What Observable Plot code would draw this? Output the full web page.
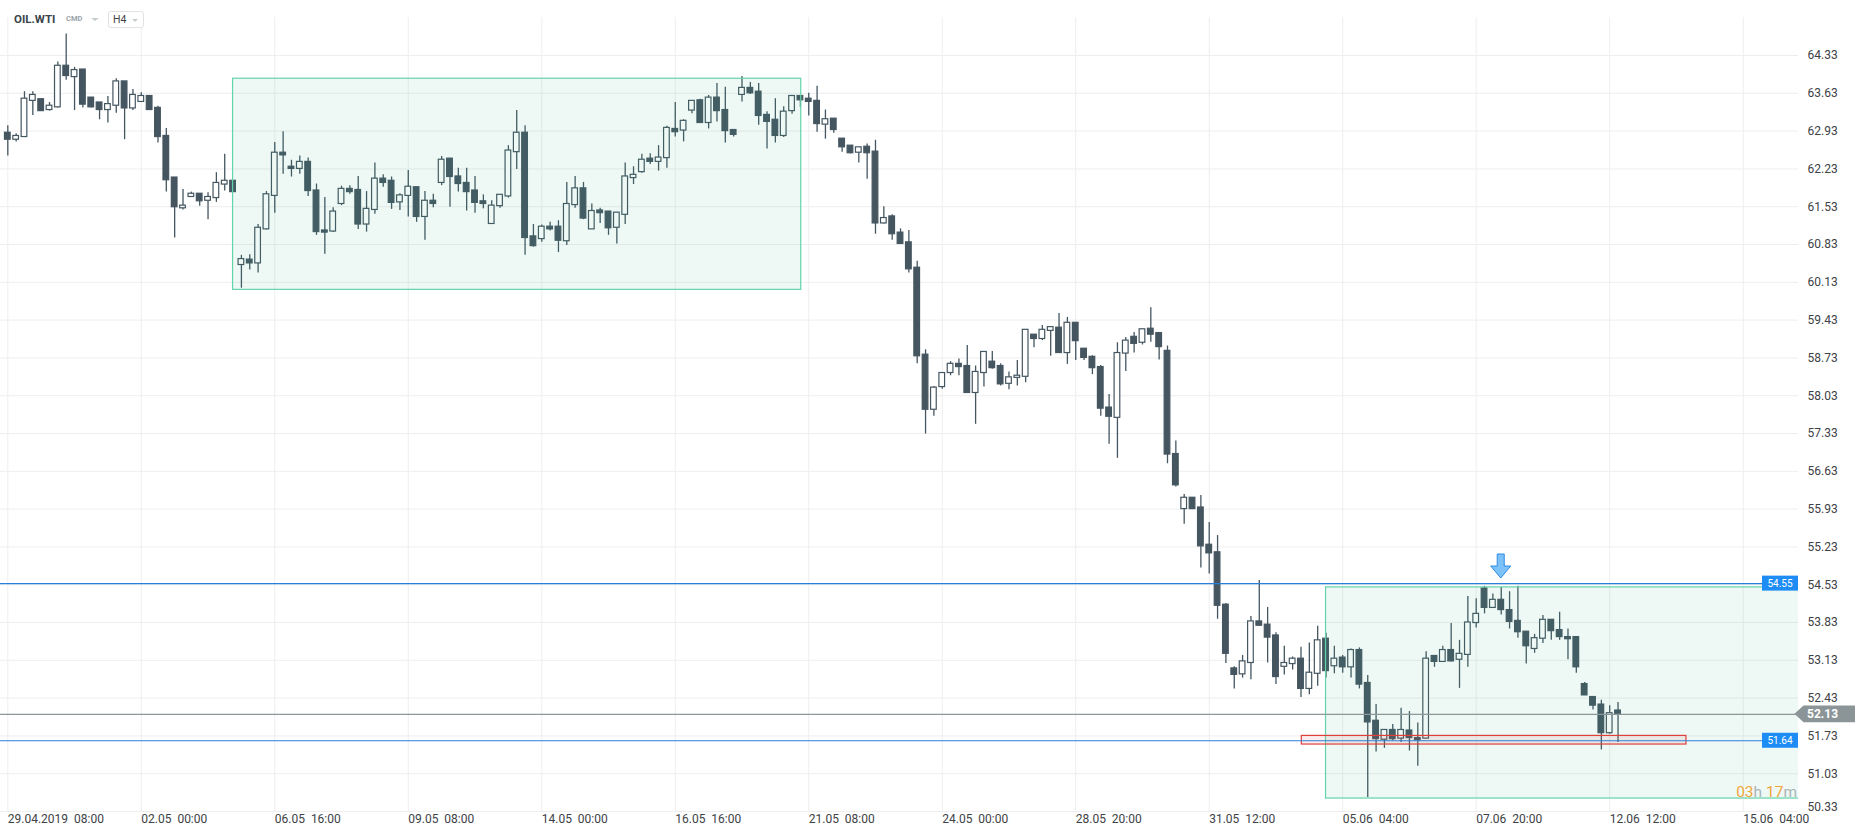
<!DOCTYPE html>
<html>
<head>
<meta charset="utf-8">
<script src="https://cdn.jsdelivr.net/npm/d3@7"></script>
<script src="https://cdn.jsdelivr.net/npm/@observablehq/plot@0.6"></script>
<style>
html, body { margin: 0; padding: 0; background: #ffffff; }
#wrap { position: relative; width: 1866px; height: 837px; font-family: Roboto, "Noto Sans", sans-serif; overflow: hidden; }
#chart svg { display: block; }
#hdr { position: absolute; left: 0; top: 0; width: 160px; height: 30px; }
#hdr .sym { position: absolute; left: 14px; top: 13px; font: bold 11.5px Roboto, sans-serif; line-height: 12px; color: #3a4449; }
#hdr .cmd { position: absolute; left: 66px; top: 15px; font: bold 7.5px Roboto, sans-serif; line-height: 8px; color: #9aa4aa; }
#hdr .caret { position: absolute; width: 0; height: 0; border-left: 4px solid transparent; border-right: 4px solid transparent; border-top: 3px solid #c6cdd1; }
#hdr .box { position: absolute; left: 108px; top: 11px; width: 34px; height: 15px; border: 1px solid #dfe3e6; border-radius: 3px; background: #fff; }
#hdr .tf { position: absolute; left: 4px; top: 2px; font: 10.5px Roboto, sans-serif; line-height: 11px; color: #444; }
</style>
</head>
<body>
<div id="wrap">
  <div id="chart"></div>
  <div id="hdr">
    <div class="sym">OIL.WTI</div>
    <div class="cmd">CMD</div>
    <div class="caret" style="left:91px;top:18px;"></div>
    <div class="box"><div class="tf">H4</div><div class="caret" style="left:23px;top:7px;border-left-width:3px;border-right-width:3px;"></div></div>
  </div>
</div>
<script>
// ---- OIL.WTI H4 candles (bar 0 = 29.04.2019 08:00) ----
const opens = [
62.90,62.77,62.82,63.49,63.52,63.32,63.37,64.14,63.93,64.07,63.55,63.46,63.32,63.40,63.85,63.35,63.47,63.58,63.36,62.84,
62.07,61.50,61.71,61.77,61.64,61.69,61.94,62.01,60.45,60.55,60.48,61.11,61.73,62.53,62.27,62.23,62.36,61.83,61.09,61.07,
61.58,61.86,61.84,61.20,61.47,62.05,62.01,61.61,61.73,61.89,61.34,61.64,61.97,62.42,62.09,61.97,61.83,61.63,61.21,61.54,
61.72,62.54,62.90,60.98,60.93,61.16,61.16,60.89,61.56,61.87,61.11,61.46,61.44,61.14,61.38,62.06,62.17,62.42,62.36,62.43,
62.97,62.94,63.31,63.50,63.08,63.55,63.32,62.95,63.60,63.73,63.66,63.23,63.14,62.84,63.30,63.58,63.53,63.49,63.05,63.16,
62.79,62.66,62.53,62.64,62.55,61.22,61.35,61.05,60.87,60.40,58.79,57.77,58.19,58.45,58.62,58.58,58.08,58.45,58.66,58.58,
58.25,58.36,58.38,59.16,59.08,59.23,59.29,58.82,59.38,58.90,58.75,58.56,57.81,57.62,58.81,59.12,59.01,59.27,59.19,58.86,
56.95,55.93,56.14,55.96,55.27,55.13,54.16,52.98,52.87,53.08,53.85,53.79,53.59,53.01,53.06,53.16,52.60,52.88,53.53,53.02,
53.18,53.00,53.32,52.71,52.01,51.66,51.84,51.68,51.83,51.69,51.68,53.21,53.10,53.32,53.14,53.23,53.82,54.46,54.10,54.25,
54.06,53.86,53.66,53.34,53.53,53.88,53.69,53.56,53.56,52.69,52.45,52.31,51.78,52.20
];
const highs = [
63.03,62.88,63.66,63.66,63.53,63.46,64.21,64.73,64.11,64.07,63.55,63.46,63.57,63.90,63.85,63.70,63.64,63.58,63.39,62.98,
62.07,61.85,61.80,61.77,61.79,62.16,62.50,62.01,60.63,60.64,61.20,61.81,62.72,62.92,62.39,62.47,62.43,61.95,61.70,61.51,
61.91,61.92,62.09,61.81,62.34,62.12,62.08,61.77,62.20,61.89,61.81,61.76,62.46,62.42,62.24,62.24,62.09,61.75,61.64,61.75,
62.66,63.31,63.03,61.20,61.19,61.24,61.27,61.98,62.09,61.98,61.58,61.50,61.44,61.42,62.34,62.27,62.50,62.51,62.66,63.02,
63.46,63.14,63.49,63.52,63.59,63.81,63.74,62.95,63.94,63.83,63.81,63.29,63.53,63.38,63.58,63.58,63.63,63.76,63.32,63.16,
62.79,62.66,62.63,62.69,62.76,61.53,61.38,61.12,61.09,60.52,58.88,58.20,58.45,58.66,58.71,58.96,58.58,58.84,58.85,58.62,
58.47,58.68,59.25,59.16,59.33,59.30,59.55,59.48,59.38,58.90,58.77,58.59,58.05,59.01,59.11,59.20,59.26,59.66,59.19,58.95,
57.19,56.20,56.14,56.18,55.68,55.44,54.18,53.01,53.22,53.94,54.61,54.11,53.64,53.39,53.19,53.37,53.45,53.76,53.63,53.39,
53.22,53.34,53.36,52.85,52.31,51.84,51.94,52.24,52.18,51.97,53.29,53.21,53.39,53.81,53.50,54.31,54.27,54.50,54.36,54.48,
54.40,54.50,53.66,53.61,53.96,53.88,54.02,53.71,53.56,52.72,52.45,52.39,52.29,52.35
];
const lows = [
62.47,62.73,62.81,63.22,63.30,63.30,63.36,63.87,63.31,63.36,63.36,63.14,63.08,63.26,62.77,63.31,63.47,63.32,62.71,61.80,
60.95,61.47,61.71,61.54,61.29,61.61,61.82,61.80,60.02,60.36,60.30,61.10,61.41,62.13,62.08,62.13,61.72,61.00,60.65,61.05,
61.55,61.76,61.11,61.06,61.39,61.89,61.48,61.46,61.34,61.24,60.91,61.51,61.92,61.52,61.80,61.45,61.41,61.49,61.21,61.50,
61.69,62.22,60.63,60.78,60.87,61.08,60.68,60.81,61.50,61.29,61.11,61.22,61.00,60.84,61.20,61.94,62.15,62.31,62.19,62.24,
62.82,62.73,63.25,63.08,62.97,63.10,62.71,62.82,63.47,63.61,63.04,62.60,62.71,62.81,63.24,63.37,63.21,62.91,62.78,62.89,
62.54,62.51,62.34,62.04,61.02,61.21,60.91,60.84,60.30,58.62,57.32,57.65,58.15,58.40,58.40,58.08,57.50,58.19,58.52,58.21,
58.14,58.21,58.27,58.92,59.05,58.76,58.82,58.61,58.68,58.68,58.42,57.65,57.13,56.87,58.48,58.82,58.97,59.02,58.69,56.77,
56.34,55.65,55.92,54.84,54.73,53.89,53.07,52.60,52.80,52.77,53.77,53.08,52.68,52.86,52.95,52.44,52.49,52.65,52.80,52.88,
52.89,52.80,52.60,50.59,51.43,51.50,51.64,51.61,51.45,51.17,51.68,53.00,53.10,53.10,52.61,53.00,53.73,53.99,54.10,53.97,
53.71,53.54,53.06,53.26,53.44,53.50,53.50,53.14,52.89,52.48,52.21,51.47,51.76,51.61
];
const closes = [
62.77,62.84,63.53,63.60,63.30,63.40,64.14,63.95,64.06,63.42,63.37,63.32,63.43,63.85,63.35,63.60,63.58,63.32,62.82,62.02,
61.52,61.55,61.77,61.63,61.71,61.97,62.01,61.80,60.56,60.48,61.14,61.76,62.53,62.48,62.23,62.36,61.82,61.06,61.05,61.44,
61.86,61.80,61.20,61.49,62.05,61.97,61.60,61.74,61.90,61.34,61.64,61.58,62.40,62.08,61.95,61.80,61.60,61.58,61.55,61.75,
62.57,62.90,60.95,60.80,61.16,61.11,60.90,61.58,61.87,61.31,61.45,61.41,61.13,61.42,62.09,62.12,62.40,62.36,62.44,62.99,
62.91,63.12,63.49,63.08,63.55,63.30,62.93,62.86,63.73,63.63,63.21,63.10,62.84,63.29,63.58,63.50,63.47,63.06,63.15,62.95,
62.63,62.52,62.63,62.52,61.22,61.32,61.02,60.84,60.37,58.76,57.77,58.18,58.45,58.62,58.56,58.08,58.47,58.84,58.54,58.24,
58.37,58.40,59.25,59.08,59.25,59.30,58.82,59.38,59.04,58.73,58.54,57.79,57.64,58.82,59.05,58.99,59.26,59.16,58.93,56.94,
56.37,56.14,55.93,55.24,55.11,54.14,53.25,52.86,53.11,53.85,53.77,53.55,52.82,53.08,53.16,52.60,52.90,53.50,52.93,53.16,
53.00,53.32,52.68,51.98,51.67,51.84,51.67,51.84,51.69,51.65,53.16,53.10,53.32,53.11,53.25,53.83,53.99,54.10,54.25,54.06,
53.84,53.65,53.39,53.54,53.88,53.67,53.56,53.52,53.00,52.48,52.29,51.78,52.15,52.13
];

// ---- time axis ticks (every 16 bars) ----
const tickBars = [0, 16, 32, 48, 64, 80, 96, 112, 128, 144, 160, 176, 192, 208];
const tickLabels = ["29.04.2019  08:00", "02.05  00:00", "06.05  16:00", "09.05  08:00", "14.05  00:00",
  "16.05  16:00", "21.05  08:00", "24.05  00:00", "28.05  20:00", "31.05  12:00", "05.06  04:00",
  "07.06  20:00", "12.06  12:00", "15.06  04:00"];

// ---- price axis ticks ----
const priceTicks = [50.33, 51.03, 51.73, 52.43, 53.13, 53.83, 54.53, 55.23, 55.93, 56.63, 57.33,
  58.03, 58.73, 59.43, 60.13, 60.83, 61.53, 62.23, 62.93, 63.63, 64.33];

// ---- annotations ----
const rangeStart = [27, 158];
const rangeEnd = [95.1, null];      // null = to the right edge
const rangeLow = [59.99, 50.57];
const rangeHigh = [63.90, 54.48];
const zoneBars = [155.1, 201.2];
const zonePrices = [51.57, 51.73];
const levelPrices = [54.55, 51.64];
const lastPrice = 52.13;
const signalBar = 179;
const signalPrice = 54.645;
const countdownParts = ["03", "h ", "17", "m"];

// ---- build ----
const bars = opens.map((o, i) => ({i, o, h: highs[i], l: lows[i], c: closes[i]}));
const up = bars.filter(d => d.c >= d.o);
const down = bars.filter(d => d.c < d.o);
const xMin = -0.875, xMax = 214.63;
const boxes = rangeStart.map((s, k) => ({from: s, to: rangeEnd[k] ?? xMax + 3, low: rangeLow[k], high: rangeHigh[k]}));
const zone = [{from: zoneBars[0], to: zoneBars[1], low: zonePrices[0], high: zonePrices[1]}];

const candle = "#455661";
const grid = "#eeeeee";
const axisText = "#3d4246";

const plot = Plot.plot({
  width: 1866,
  height: 837,
  marginTop: 17,
  marginBottom: 26,
  marginLeft: 0,
  marginRight: 68,
  x: {type: "linear", domain: [xMin, xMax], axis: null},
  y: {type: "linear", domain: [50.33, 64.33], range: [811, 55], axis: null},
  style: {fontFamily: "Roboto, sans-serif", fontSize: "12px", background: "#ffffff", overflow: "visible"},
  marks: [
    Plot.ruleX(tickBars, {x: d => d, stroke: grid, strokeWidth: 1}),
    Plot.ruleY(priceTicks, {y: d => d, stroke: grid, strokeWidth: 1}),
    // wicks
    Plot.ruleX(bars, {x: "i", y1: "l", y2: "h", stroke: candle, strokeWidth: 1.3}),
    // bodies
    Plot.rect(down, {x1: d => d.i - 0.34, x2: d => d.i + 0.34, y1: "o", y2: "c", fill: candle, stroke: candle, strokeWidth: 1.2}),
    Plot.rect(up, {x1: d => d.i - 0.34, x2: d => d.i + 0.34, y1: "o", y2: "c", fill: "#ffffff", stroke: candle, strokeWidth: 1.2}),
    // consolidation boxes
    Plot.rect(boxes, {x1: "from", x2: "to", y1: "low", y2: "high", fill: "rgb(40,175,125)", fillOpacity: 0.08, stroke: "#63d3aa", strokeWidth: 1.2, clip: true}),
    // support zone
    Plot.rect(zone, {x1: "from", x2: "to", y1: "low", y2: "high", fill: "#e53935", fillOpacity: 0.09, stroke: "#e0403a", strokeWidth: 1.2}),
    // levels
    Plot.ruleY(levelPrices, {y: d => d, stroke: "#2a7fdc", strokeWidth: 1.2}),
    Plot.ruleY([lastPrice], {y: d => d, stroke: "#8d9699", strokeWidth: 1.2}),
    // axis labels
    Plot.text(tickBars, {x: d => d, frameAnchor: "bottom", text: (d, i) => tickLabels[i].replace("  ", " \u00a0"), textAnchor: "start", lineAnchor: "middle", dy: 8, fontSize: 12, fill: axisText}),
    Plot.text(priceTicks.slice(1), {y: d => d, frameAnchor: "right", text: d => d.toFixed(2), textAnchor: "start", lineAnchor: "middle", dx: 9, fontSize: 12, fill: axisText}),
    Plot.text(priceTicks.slice(0, 1), {y: d => d, frameAnchor: "right", text: d => d.toFixed(2), textAnchor: "start", lineAnchor: "middle", dx: 9, dy: -4, fontSize: 12, fill: axisText})
  ]
});

document.getElementById("chart").appendChild(plot);

// ---- annotation overlays positioned with Plot's scales ----
const xs = plot.scale("x"), ys = plot.scale("y");
const svg = d3.select(plot);
const right = 1798;

levelPrices.forEach(p => {
  const y = ys.apply(p);
  const g = svg.append("g");
  g.append("rect").attr("x", right - 36).attr("y", y - 7.5).attr("width", 36).attr("height", 15).attr("fill", "#1d8df5");
  g.append("text").attr("x", right - 18).attr("y", y).attr("dy", "0.35em").attr("text-anchor", "middle")
    .attr("font-size", 10).attr("fill", "#ffffff").text(p.toFixed(2));
});

{
  const y = ys.apply(lastPrice);
  const g = svg.append("g");
  g.append("path").attr("d", `M${right - 3.5},${y} L${right + 5.5},${y - 8.3} L1855,${y - 8.3} L1855,${y + 8.4} L${right + 5.5},${y + 8.4} Z`)
    .attr("fill", "#8b9598");
  g.append("text").attr("x", 1807).attr("y", y).attr("dy", "0.36em").attr("text-anchor", "start")
    .attr("font-size", 12).attr("font-weight", "bold")
    .attr("fill", "#ffffff").text(lastPrice.toFixed(2));
}

{
  const cx = xs.apply(signalBar), ty = ys.apply(signalPrice);
  svg.append("path")
    .attr("d", `M${cx - 3.5},${ty - 24} L${cx + 3.5},${ty - 24} L${cx + 3.5},${ty - 12} L${cx + 10},${ty - 12} L${cx},${ty} L${cx - 10},${ty - 12} L${cx - 3.5},${ty - 12} Z`)
    .attr("fill", "#7cc1f7").attr("stroke", "#2f8ae4").attr("stroke-width", 1).attr("stroke-linejoin", "round");
}

{
  const t = svg.append("text").attr("x", right - 1).attr("y", ys.apply(rangeLow[1]) - 1).attr("text-anchor", "end")
    .attr("font-size", 15.5);
  countdownParts.forEach((s, k) => t.append("tspan").attr("fill", k % 2 === 0 ? "#f2a43a" : "#aab4b6").text(s));
}
</script>
</body>
</html>
